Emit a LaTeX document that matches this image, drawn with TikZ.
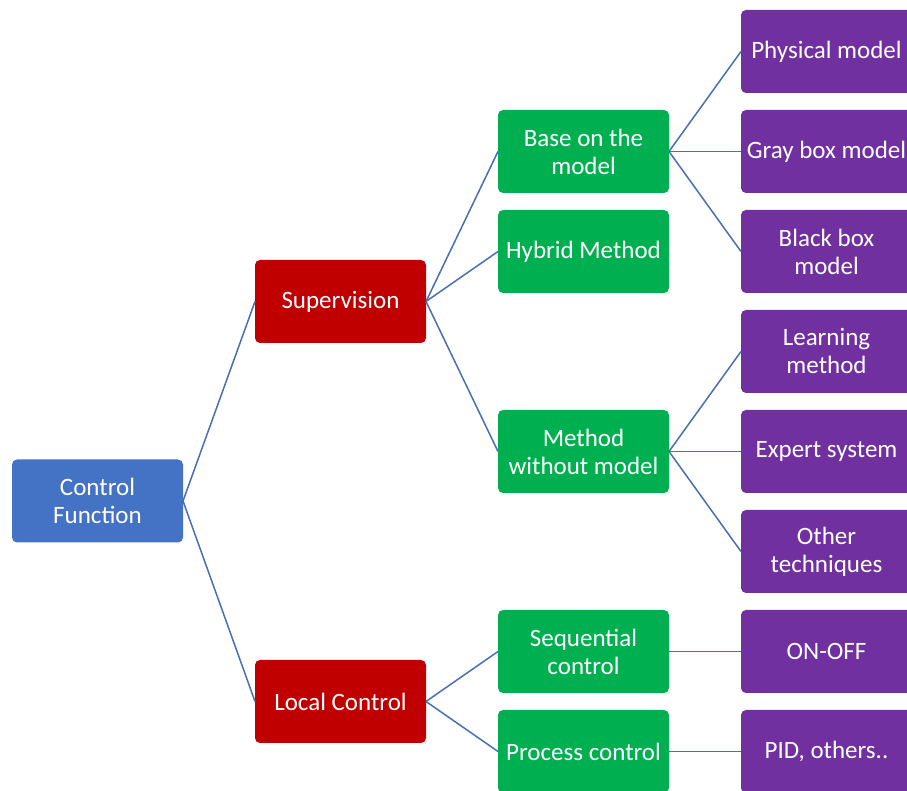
\documentclass[tikz,border=0pt]{standalone}
\usepackage{fontspec}
\setmainfont{Carlito}
\usetikzlibrary{positioning}
\definecolor{rootblue}{HTML}{4472C4}
\definecolor{levred}{HTML}{C00000}
\definecolor{levgreen}{HTML}{00B050}
\definecolor{levpurple}{HTML}{7030A0}
\definecolor{linkblue}{HTML}{4A6FB0}

\begin{document}
\begin{tikzpicture}[x=1pt, y=1pt]
	\tikzstyle{box} = [rectangle, rounded corners=5pt, minimum height=83pt, minimum width=171pt, inner sep=0pt, outer sep=0pt, text=white, align=center, font=\fontsize{25}{28}\selectfont]
	\tikzstyle{rootbox} = [box, fill=rootblue]
	\tikzstyle{redbox} = [box, fill=levred]
	\tikzstyle{greenbox} = [box, fill=levgreen]
	\tikzstyle{purplebox} = [box, fill=levpurple]
	\tikzstyle{link} = [draw=linkblue, line width=1.5pt]
	\useasboundingbox (0,0) rectangle (907,791);
	
	\node[purplebox] (P1) at (826.5, 739.5) {Physical model};
	\node[below=17pt of P1, purplebox] (P2) {Gray box model};
	\node[below=17pt of P2, purplebox] (P3) {Black box\\model};
	\node[below=17pt of P3, purplebox] (P4) {Learning\\method};
	\node[below=17pt of P4, purplebox] (P5) {Expert system};
	\node[below=17pt of P5, purplebox] (P6) {Other\\techniques};
	\node[below=17pt of P6, purplebox] (P7) {ON-OFF};
	\node[below=17pt of P7, purplebox] (P8) {PID, others..};
	
	\node[left=72pt of P2, greenbox] (G1) {Base on the\\model};
	\node[left=72pt of P3, greenbox] (G2) {Hybrid Method};
	\node[left=72pt of P5, greenbox] (G3) {Method\\without model};
	\node[left=72pt of P7, greenbox] (G4) {Sequential\\control};
	\node[left=72pt of P8, greenbox] (G5) {Process control};
	
	\node[redbox] (SUP) at (340.5, 489.5) {Supervision};
	\node[redbox] (LOC) at (340.5, 89.5) {Local Control};
	\node[rootbox] (CF) at (97.5, 290) {Control\\Function};
	
	\draw[link] (CF.east) -- (SUP.west);
	\draw[link] (CF.east) -- (LOC.west);
	
	\draw[link] (SUP.east) -- (G1.west);
	\draw[link] (SUP.east) -- (G2.west);
	\draw[link] (SUP.east) -- (G3.west);
	\draw[link] (LOC.east) -- (G4.west);
	\draw[link] (LOC.east) -- (G5.west);
	
	\draw[link] (G1.east) -- (P1.west);
	\draw[link] (G1.east) -- (P2.west);
	\draw[link] (G1.east) -- (P3.west);
	\draw[link] (G3.east) -- (P4.west);
	\draw[link] (G3.east) -- (P5.west);
	\draw[link] (G3.east) -- (P6.west);
	\draw[link] (G4.east) -- (P7.west);
	\draw[link] (G5.east) -- (P8.west);
	
\end{tikzpicture}
\end{document}
